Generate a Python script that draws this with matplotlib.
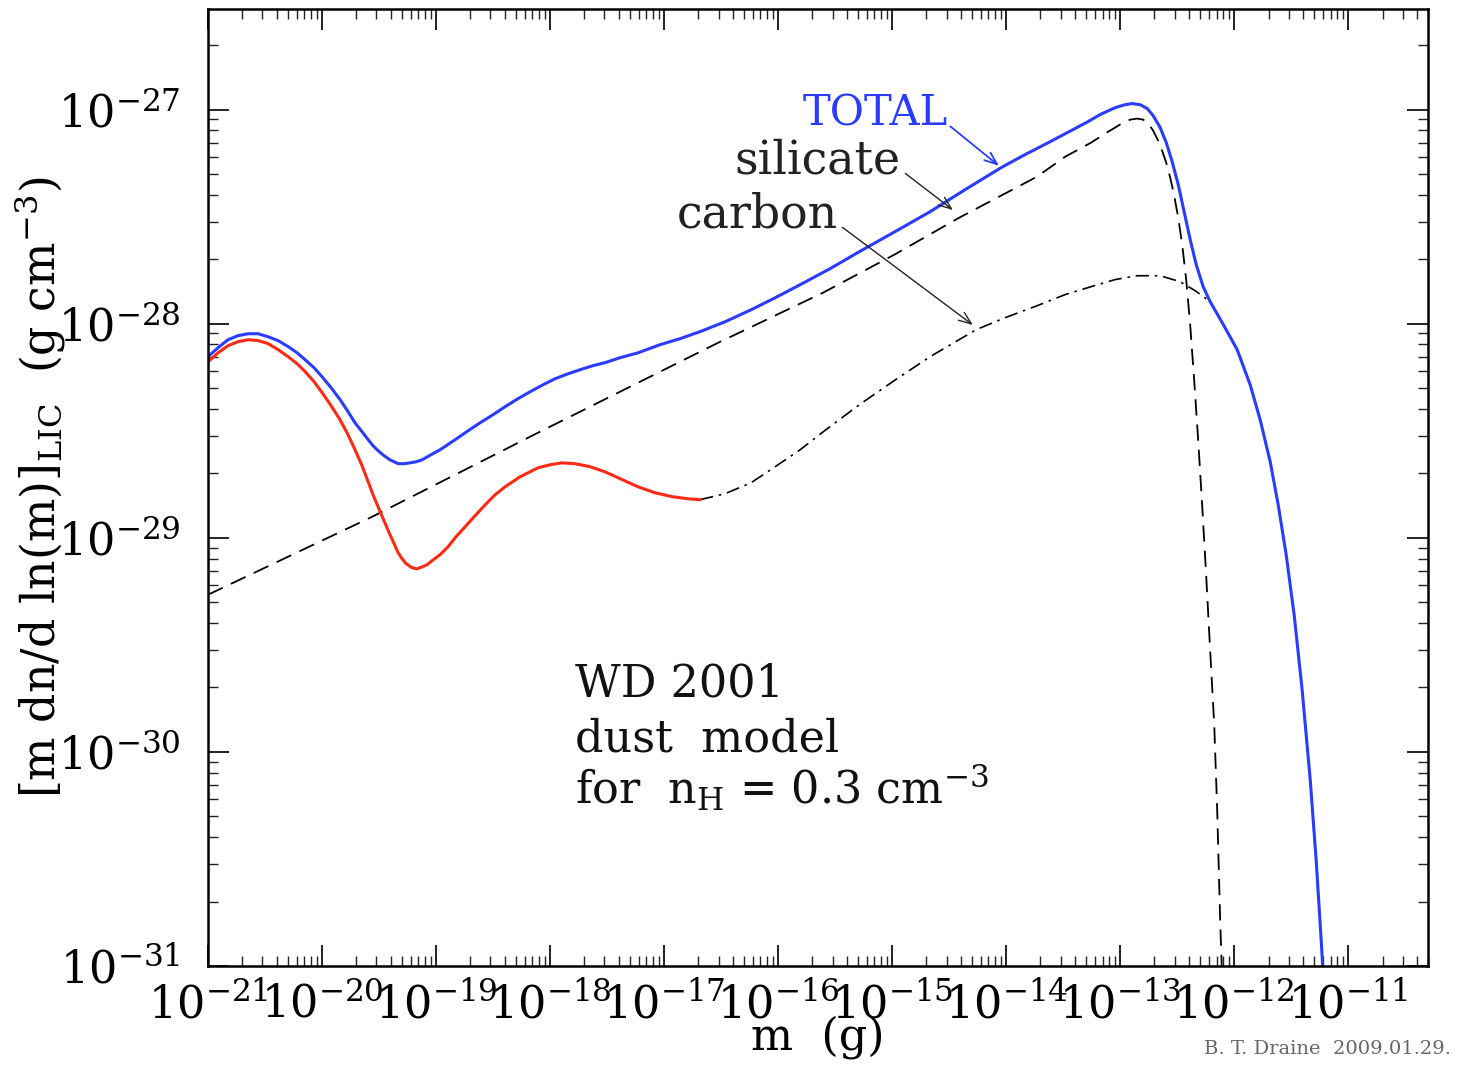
import numpy as np
import matplotlib
matplotlib.use('Agg')
from matplotlib import pyplot as plt
from matplotlib.ticker import LogLocator, LogFormatterMathtext, NullFormatter

plt.rcParams['font.family'] = 'DejaVu Serif'
plt.rcParams['mathtext.fontset'] = 'dejavuserif'

# values, as log10 of m (g) and log10 of [m dn/dln m] (g cm^-3)
total_lm = [-21.0, -20.912, -20.825, -20.737, -20.65, -20.561, -20.474, -20.386, -20.298,
            -20.219, -20.149, -20.070, -20.0, -19.921, -19.842, -19.772, -19.711, -19.649,
            -19.596, -19.553, -19.509, -19.456, -19.404, -19.333, -19.281, -19.228, -19.175,
            -19.123, -19.044, -18.965, -18.833, -18.719, -18.614, -18.5, -18.395, -18.281,
            -18.175, -18.061, -17.956, -17.842, -17.737, -17.623, -17.518, -17.386, -17.228,
            -17.035, -16.86, -16.684, -16.465, -16.237, -16.026, -15.807, -15.544, -15.289,
            -14.974, -14.667, -14.360, -14.044, -13.833, -13.614, -13.412, -13.281, -13.175,
            -13.044, -12.956, -12.895, -12.825, -12.763, -12.711, -12.649, -12.596, -12.544,
            -12.491, -12.439, -12.386, -12.333, -12.272, -12.211, -12.105, -11.974, -11.860,
            -11.772, -11.684, -11.614, -11.544, -11.474, -11.404, -11.333, -11.281, -11.237,
            -11.202]
total_ly = [-28.154, -28.112, -28.075, -28.056, -28.047, -28.047, -28.061, -28.079, -28.107,
            -28.136, -28.168, -28.206, -28.248, -28.299, -28.355, -28.411, -28.463, -28.505,
            -28.542, -28.570, -28.593, -28.617, -28.636, -28.654, -28.654, -28.650, -28.645,
            -28.636, -28.612, -28.589, -28.542, -28.5, -28.463, -28.425, -28.388, -28.350,
            -28.318, -28.285, -28.257, -28.234, -28.215, -28.196, -28.182, -28.159, -28.136,
            -28.098, -28.070, -28.037, -27.991, -27.935, -27.879, -27.818, -27.743, -27.664,
            -27.570, -27.477, -27.374, -27.271, -27.210, -27.150, -27.093, -27.056, -27.023,
            -26.991, -26.977, -26.972, -26.977, -26.995, -27.028, -27.084, -27.154, -27.243,
            -27.350, -27.477, -27.607, -27.724, -27.827, -27.897, -27.995, -28.121, -28.285,
            -28.449, -28.645, -28.846, -29.079, -29.360, -29.710, -30.131, -30.505, -30.879,
            -31.206]

sil_lm = [-21.0, -19.561, -18.105, -16.526, -15.605, -14.982, -14.412, -13.728, -13.482,
          -13.254, -13.132, -13.044, -12.974, -12.912, -12.851, -12.798, -12.754, -12.711,
          -12.667, -12.632, -12.596, -12.561, -12.526, -12.491, -12.456, -12.421, -12.386,
          -12.351, -12.316, -12.281, -12.246, -12.211, -12.175, -12.149, -12.123, -12.096]
sil_ly = [-29.266, -28.902, -28.509, -28.089, -27.855, -27.678, -27.505, -27.313, -27.220,
          -27.154, -27.112, -27.084, -27.061, -27.047, -27.042, -27.047, -27.065, -27.098,
          -27.145, -27.192, -27.248, -27.318, -27.402, -27.505, -27.631, -27.794, -28.005,
          -28.262, -28.542, -28.846, -29.173, -29.523, -29.874, -30.271, -30.785, -31.206]

# carbon, small grains (drawn red)
carb_small_lm = [-21.0, -20.912, -20.825, -20.737, -20.649, -20.561, -20.474, -20.386, -20.298,
                 -20.219, -20.149, -20.070, -20.0, -19.921, -19.842, -19.772, -19.711, -19.649,
                 -19.596, -19.553, -19.509, -19.456, -19.404, -19.368, -19.333, -19.298, -19.263,
                 -19.211, -19.167, -19.123, -19.079, -19.035, -18.965, -18.895, -18.825, -18.746,
                 -18.658, -18.570, -18.482, -18.395, -18.263, -18.105, -18.0, -17.895, -17.781,
                 -17.649, -17.518, -17.386, -17.228, -17.079, -16.930, -16.789, -16.684]
carb_small_ly = [-28.178, -28.136, -28.103, -28.084, -28.075, -28.079, -28.093, -28.121, -28.154,
                 -28.187, -28.224, -28.271, -28.322, -28.383, -28.449, -28.519, -28.589, -28.664,
                 -28.738, -28.799, -28.855, -28.921, -28.986, -29.028, -29.070, -29.098, -29.121,
                 -29.140, -29.145, -29.136, -29.126, -29.107, -29.079, -29.042, -28.995, -28.949,
                 -28.897, -28.846, -28.799, -28.762, -28.715, -28.673, -28.659, -28.650, -28.654,
                 -28.668, -28.692, -28.724, -28.762, -28.790, -28.808, -28.818, -28.822]
# carbon, larger grains (dash-dot)
carb_lm = [-16.684, -16.465, -16.237, -16.026, -15.807, -15.605, -15.289, -14.982, -14.667,
           -14.263, -14.009, -13.728, -13.482, -13.254, -13.044, -12.851, -12.649, -12.474,
           -12.342, -12.211]
carb_ly = [-28.822, -28.794, -28.743, -28.668, -28.589, -28.505, -28.379, -28.266, -28.154,
           -28.028, -27.972, -27.916, -27.864, -27.827, -27.794, -27.776, -27.776, -27.804,
           -27.846, -27.897]

def p(a):
    return 10.0 ** np.array(a)

blue = '#2a3cff'
red = '#ff2a14'

fig = plt.figure(figsize=(14.57, 10.67), dpi=100)
ax = fig.add_axes([0.1428, 0.0947, 0.8373, 0.8969])

ax.plot(p(sil_lm), p(sil_ly), color='black', lw=1.3, dashes=(9, 5))
ax.plot(p(carb_lm), p(carb_ly), color='black', lw=1.2, dashes=(8, 3.5, 1.5, 3.5))
ax.plot(p(carb_small_lm), p(carb_small_ly), color=red, lw=2.2)
ax.plot(p(total_lm), p(total_ly), color=blue, lw=2.2)

ax.set_xscale('log')
ax.set_yscale('log')
ax.set_xlim(1e-21, 10 ** -10.3)
ax.set_ylim(1e-31, 10 ** -26.53)

ax.xaxis.set_major_locator(LogLocator(base=10, numticks=20))
ax.xaxis.set_minor_locator(LogLocator(base=10, subs=np.arange(2, 10), numticks=20))
ax.yaxis.set_major_locator(LogLocator(base=10, numticks=20))
ax.yaxis.set_minor_locator(LogLocator(base=10, subs=np.arange(2, 10), numticks=20))
ax.xaxis.set_major_formatter(LogFormatterMathtext())
ax.yaxis.set_major_formatter(LogFormatterMathtext())
ax.xaxis.set_minor_formatter(NullFormatter())
ax.yaxis.set_minor_formatter(NullFormatter())

ax.tick_params(which='both', direction='in', top=True, right=True, labelsize=32, color='#222222')
ax.tick_params(which='major', length=15, width=1.4, pad=12)
ax.tick_params(axis='y', which='major', pad=20)
ax.tick_params(which='minor', length=7, width=1.0)
for s in ax.spines.values():
    s.set_linewidth(1.8)

ax.set_xlabel('m  (g)', fontsize=32, labelpad=-8)
ax.set_ylabel(r'[m dn/d ln(m)]$_\mathregular{LIC}$  (g cm$^{-3}$)', fontsize=33)
ax.yaxis.set_label_coords(-0.115, 0.5)

# labels with arrows
ax.text(p(-14.509), p(-27.075), 'TOTAL', color=blue, fontsize=30, ha='right', va='baseline')
ax.annotate('', xy=(p(-14.044), p(-27.271)), xytext=(p(-14.509), p(-27.07)),
            arrowprops=dict(arrowstyle='->,head_length=0.9,head_width=0.35', color=blue, lw=1.3))
ax.text(p(-14.93), p(-27.30), 'silicate', color='#222222', fontsize=33, ha='right', va='baseline')
ax.annotate('', xy=(p(-14.447), p(-27.477)), xytext=(p(-14.904), p(-27.29)),
            arrowprops=dict(arrowstyle='->,head_length=0.9,head_width=0.35', color='#222222', lw=1.0))
ax.text(p(-15.474), p(-27.551), 'carbon', color='#222222', fontsize=33, ha='right', va='baseline')
ax.annotate('', xy=(p(-14.272), p(-28.014)), xytext=(p(-15.456), p(-27.542)),
            arrowprops=dict(arrowstyle='->,head_length=0.9,head_width=0.35', color='#222222', lw=1.0))

ax.text(0.301, 0.282, 'WD 2001', transform=ax.transAxes, fontsize=32, color='#111111')
ax.text(0.301, 0.224, 'dust  model', transform=ax.transAxes, fontsize=32, color='#111111')
ax.text(0.301, 0.169, r'for  n$_\mathregular{H}$ = 0.3 cm$^{-3}$', transform=ax.transAxes,
        fontsize=32, color='#111111')

fig.text(0.996, 0.008, 'B. T. Draine  2009.01.29.', ha='right', va='bottom', fontsize=14, color='#666666')

fig.savefig('out.png', dpi=100)
